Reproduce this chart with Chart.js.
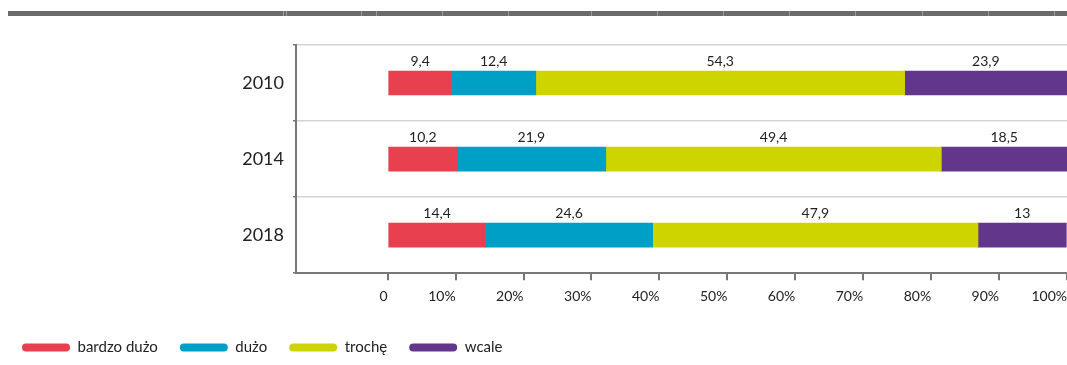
<!DOCTYPE html>
<html lang="pl">
<head>
<meta charset="utf-8">
<title>Wykres</title>
<script src="https://cdn.jsdelivr.net/npm/chart.js@4.4.1/dist/chart.umd.min.js"></script>
<style>
  html, body { margin: 0; padding: 0; background: #fff; }
  #wrap { position: relative; width: 1067px; height: 365px; overflow: hidden; }
  #topbar { position: absolute; left: 8px; top: 11px; width: 1059px; height: 5px; background: #6b6b6b; }
  #topbar span { position: absolute; top: 0; width: 1px; height: 5px; background: #9c9c9c; }
  canvas { position: absolute; left: 0; top: 0; }
</style>
</head>
<body>
<div id="wrap">
  <div id="topbar"></div>
  <canvas id="chart" width="1067" height="365"></canvas>
</div>
<script>
// Survey years and answer shares (%)
const years = ['2010', '2014', '2018'];
const seriesNames = ['bardzo dużo', 'dużo', 'trochę', 'wcale'];
const bardzoDuzo = [9.4, 10.2, 14.4];
const duzo = [12.4, 21.9, 24.6];
const troche = [54.3, 49.4, 47.9];
const wcale = [23.9, 18.5, 13];
const xTickValues = [0, 10, 20, 30, 40, 50, 60, 70, 80, 90, 100];

const colors = ['#e8404e', '#00a0c6', '#cdd400', '#62368a'];

// thin separators on the header strip
const dividerOffsets = [275, 278, 353, 368, 434, 500, 583, 649, 715, 781, 847, 914, 980, 1046];
const bar = document.getElementById('topbar');
dividerOffsets.forEach(o => {
  const s = document.createElement('span');
  s.style.left = o + 'px';
  bar.appendChild(s);
});

const fmt = v => String(v).replace('.', ',');

// value labels above each stacked segment
const segmentLabels = {
  id: 'segmentLabels',
  afterDatasetsDraw(chart) {
    const ctx = chart.ctx;
    ctx.save();
    ctx.font = '14px Lato';
    ctx.fillStyle = '#222';
    ctx.textAlign = 'center';
    ctx.textBaseline = 'middle';
    chart.data.datasets.forEach((ds, i) => {
      const meta = chart.getDatasetMeta(i);
      meta.data.forEach((el, j) => {
        const p = el.getProps(['x', 'y', 'base', 'height'], true);
        const cx = (p.x + p.base) / 2;
        const cy = p.y - p.height / 2 - 10;
        ctx.fillText(fmt(ds.data[j]), cx, cy);
      });
    });
    ctx.restore();
  }
};

const allSeries = [bardzoDuzo, duzo, troche, wcale];

new Chart(document.getElementById('chart'), {
  type: 'bar',
  data: {
    labels: years,
    datasets: allSeries.map((d, i) => ({
      label: seriesNames[i],
      data: d,
      backgroundColor: colors[i],
      borderWidth: 0,
      barThickness: 24
    }))
  },
  options: {
    indexAxis: 'y',
    responsive: false,
    animation: false,
    devicePixelRatio: 1,
    layout: { padding: { top: 45, right: 0, left: 0, bottom: 0 } },
    scales: {
      x: {
        stacked: true,
        min: -13.5,
        max: 100,
        afterBuildTicks(scale) {
          scale.ticks = xTickValues.map(v => ({ value: v }));
        },
        afterFit(scale) {
          scale.paddingRight = 0;
          scale.height += 5;
        },
        border: { display: true, color: '#777', width: 2 },
        grid: { drawOnChartArea: false, drawTicks: true, tickLength: 7, tickColor: '#777', lineWidth: 2 },
        ticks: {
          align: 'end',
          padding: 8,
          color: '#222',
          font: { family: 'Lato', size: 14 },
          callback: v => v === 0 ? '0' : v + '%'
        }
      },
      y: {
        stacked: true,
        afterFit(scale) { scale.width = 296; },
        border: { display: true, color: '#777', width: 2 },
        grid: { offset: true, color: '#d4d4d4', lineWidth: 1.5, tickColor: '#777', tickLength: 3, drawTicks: true },
        ticks: {
          padding: 9,
          color: '#222',
          font: { family: 'Lato', size: 18 }
        }
      }
    },
    plugins: {
      tooltip: { enabled: false },
      legend: {
        position: 'bottom',
        align: 'start',
        labels: {
          boxWidth: 48,
          boxHeight: 8,
          useBorderRadius: true,
          borderRadius: 4,
          padding: 22,
          color: '#222',
          font: { family: 'Lato', size: 15 }
        }
      }
    }
  },
  plugins: [segmentLabels]
});
</script>
</body>
</html>
